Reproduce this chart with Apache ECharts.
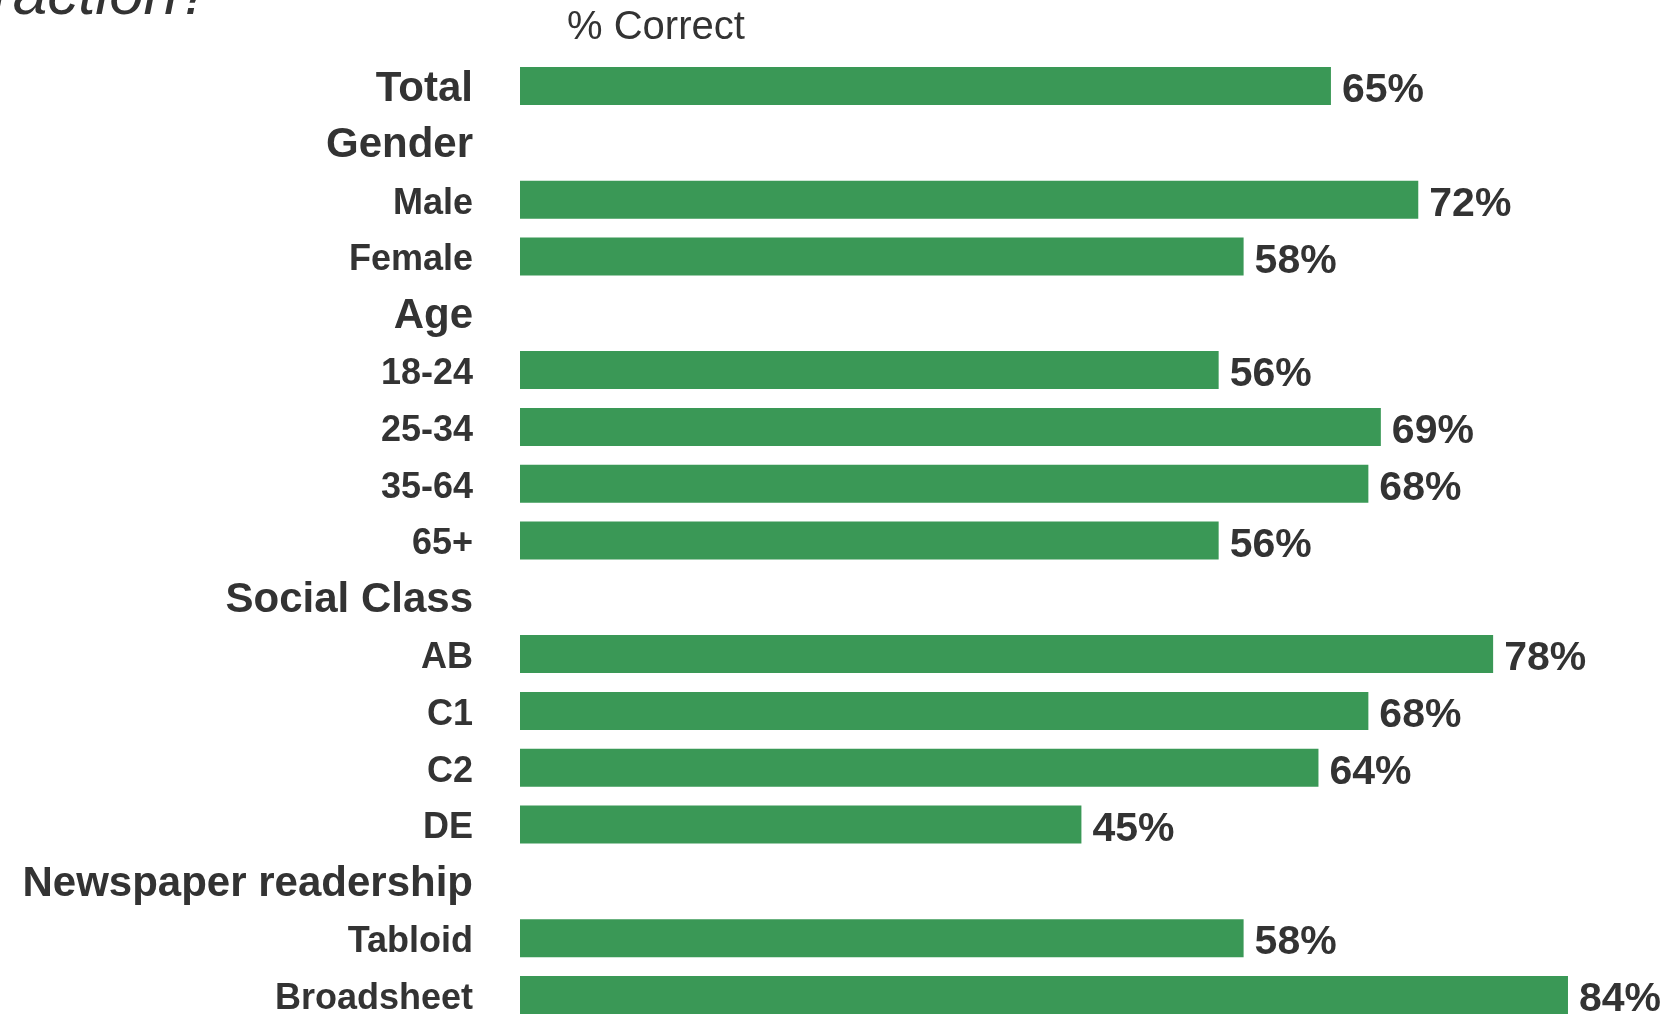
<!DOCTYPE html>
<html>
<head>
<meta charset="utf-8">
<script src="https://cdn.jsdelivr.net/npm/echarts@6/dist/echarts.min.js"></script>
<style>
html, body { margin: 0; padding: 0; background: #fff; }
#chart { width: 1667px; height: 1015px; }
</style>
</head>
<body>
<div id="chart"></div>
<script>
// rows top to bottom; header rows have no bar
var categories = ['Total', 'Gender', 'Male', 'Female', 'Age', '18-24', '25-34', '35-64', '65+',
  'Social Class', 'AB', 'C1', 'C2', 'DE', 'Newspaper readership', 'Tabloid', 'Broadsheet'];
var headers = ['Total', 'Gender', 'Age', 'Social Class', 'Newspaper readership'];
var values = [65, null, 72, 58, null, 56, 69, 68, 56, null, 78, 68, 64, 45, null, 58, 84];

var chart = echarts.init(document.getElementById('chart'));
var font = '"Liberation Sans", Arial, Helvetica, sans-serif';

var option = {
  animation: false,
  textStyle: { fontFamily: font },
  graphic: [
    {
      type: 'text', left: -8, top: -34,
      style: { text: 'raction?', font: 'italic 62px ' + font, fill: '#333' }
    },
    {
      type: 'text', left: 567, top: 8,
      style: { text: '% Correct', font: '40px ' + font, fill: '#333' }
    }
  ],
  grid: { left: 520, top: 57.6, width: 1247.6, height: 965.8, outerBoundsMode: 'none' },
  xAxis: {
    type: 'value', min: 0, max: 100, show: false
  },
  yAxis: {
    type: 'category',
    data: categories,
    inverse: true,
    axisLine: { show: false },
    axisTick: { show: false },
    axisLabel: {
      margin: 47,
      formatter: function (v) {
        return headers.indexOf(v) >= 0 ? '{h|' + v + '}' : '{s|' + v + '}';
      },
      rich: {
        h: { fontSize: 42, fontWeight: 'bold', color: '#333', fontFamily: font, padding: [6, 0, 0, 0] },
        s: { fontSize: 36, fontWeight: 'bold', color: '#333', fontFamily: font, padding: [8, 0, 0, 0] }
      }
    }
  },
  series: [{
    type: 'bar',
    data: values,
    barWidth: 38,
    itemStyle: { color: '#3a9856' },
    label: {
      show: true,
      position: 'right',
      distance: 11,
      offset: [0, 5],
      formatter: '{c}%',
      fontSize: 41,
      fontWeight: 'bold',
      color: '#333',
      fontFamily: font
    }
  }]
};

chart.setOption(option);
</script>
</body>
</html>
